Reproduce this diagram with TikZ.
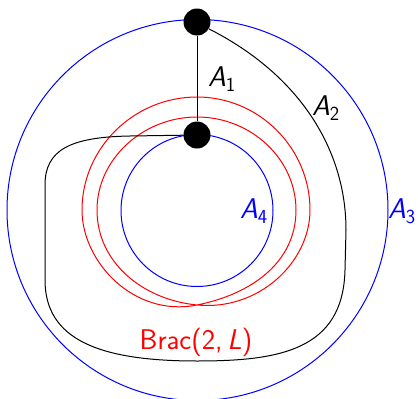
\documentclass[tikz,border=0pt]{standalone}
\usetikzlibrary{calc}
\begin{document}
\begin{tikzpicture}[x=1pt,y=-1pt,
  curve/.style={line width=1pt},
  dot/.style={circle,fill=black,inner sep=0pt,minimum size=27pt},
  lab/.style={inner sep=0pt,font=\fontsize{28.5}{32}\sffamily}]
\useasboundingbox (0,0) rectangle (418,399);
% circles
\draw[curve,blue] (197.5,210) circle (190.5pt);
\draw[curve,blue] (197,210.5) circle (76pt);
% red bracelet (closed curve winding twice, one crossing)
\coordinate (c) at (197,305);
\draw[curve,red] (c)
  .. controls (259,311) and (310,262) .. (310,210)
  .. controls (310,148) and (259,97) .. (197,97)
  .. controls (134,97) and (82,148) .. (82,210)
  .. controls (82,262) and (134,317.6) .. (c)
  .. controls (252,294) and (296,262) .. (296,210)
  .. controls (296,159) and (251,117) .. (197,117)
  .. controls (143,117) and (97,159) .. (97,210)
  .. controls (97,262) and (142,299.5) .. (c);
% nodes
\node[dot] (top) at (197,22) {};
\node[dot] (mid) at (197,135) {};
% arcs
\draw[curve] (top) -- (mid);
\draw[curve] (top.-30) .. controls (300,75) and (346,150) .. (346,230)
  -- (345,270) .. controls (343,350) and (280,361) .. (197,361)
  .. controls (100,361) and (45,340) .. (45,280) -- (45,185)
  .. controls (45,150) and (70,137) .. (130,136) -- (mid);
% labels
\node[lab] (a1) at (222,79) {\textsl{A}\textsubscript{1}};
\node[lab] (a2) at (326,108) {\textsl{A}\textsubscript{2}};
\node[lab,blue] (a3) at (402,211) {\textsl{A}\textsubscript{3}};
\node[lab,blue] (a4) at (254,211) {\textsl{A}\textsubscript{4}};
\node[lab,red] (brac) at (196,342) {Brac(2,\,\textsl{L})};
\end{tikzpicture}
\end{document}
